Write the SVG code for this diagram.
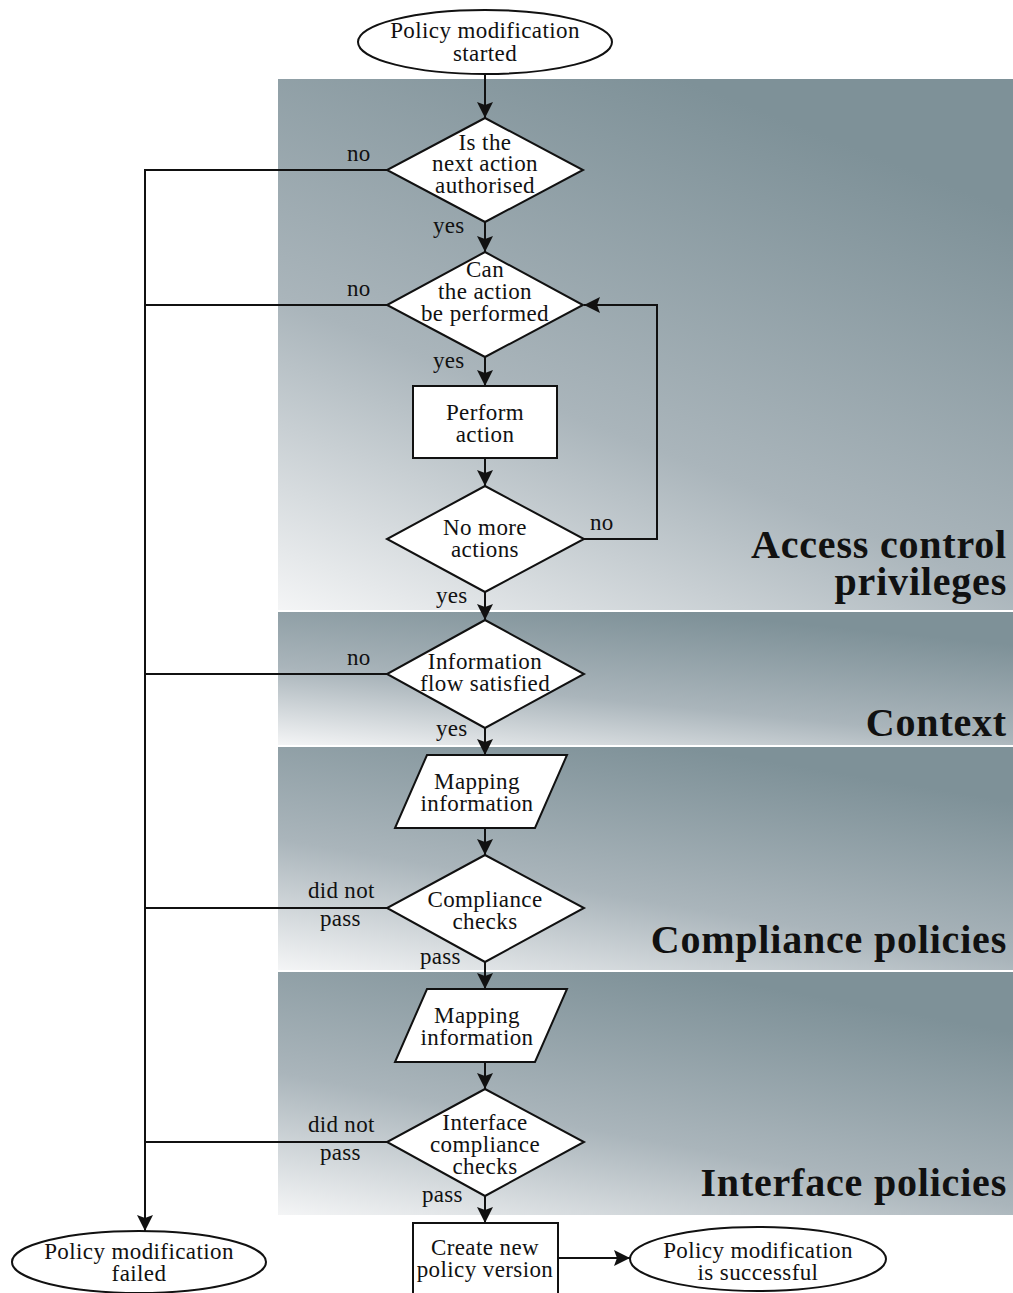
<svg xmlns="http://www.w3.org/2000/svg" width="1013" height="1293" viewBox="0 0 1013 1293">
  <defs>
    <linearGradient id="band" x1="0" y1="1" x2="0.55" y2="0">
      <stop offset="0" stop-color="#f4f5f6"/>
      <stop offset="0.45" stop-color="#aab5bb"/>
      <stop offset="1" stop-color="#7e9198"/>
    </linearGradient>
    <marker id="arrow" markerUnits="userSpaceOnUse" markerWidth="16" markerHeight="16" refX="16" refY="8" orient="auto">
      <path d="M0,0 L16,8 L0,16 L3,8 z" fill="#111"/>
    </marker>
    <style>
      .shape { fill: #fff; stroke: #111; stroke-width: 2; }
      .link { fill: none; stroke: #111; stroke-width: 2; }
      .txt { font-family: "Liberation Serif", "Times New Roman", serif; font-size: 23px; letter-spacing: 0.4px; fill: #111; text-anchor: middle; }
      .lbl { font-family: "Liberation Serif", "Times New Roman", serif; font-size: 23px; letter-spacing: 0.3px; fill: #111; }
      .title { font-family: "Liberation Serif", "Times New Roman", serif; font-size: 40px; letter-spacing: 0.8px; font-weight: bold; fill: #111; text-anchor: end; }
    </style>
  </defs>

  <rect width="1013" height="1293" fill="#fff"/>

  <!-- background bands -->
  <g id="bands">
    <rect x="278" y="79" width="735" height="531" fill="url(#band)"/>
    <rect x="278" y="612" width="735" height="133" fill="url(#band)"/>
    <rect x="278" y="747" width="735" height="223" fill="url(#band)"/>
    <rect x="278" y="972" width="735" height="243" fill="url(#band)"/>
    <text class="title" x="1007" y="558">Access control</text>
    <text class="title" x="1007" y="595">privileges</text>
    <text class="title" x="1007" y="736">Context</text>
    <text class="title" x="1007" y="953">Compliance policies</text>
    <text class="title" x="1007" y="1196">Interface policies</text>
  </g>

  <!-- connectors -->
  <g id="connectors">
    <line class="link" x1="485" y1="75" x2="485" y2="118" marker-end="url(#arrow)"/>
    <line class="link" x1="485" y1="222" x2="485" y2="252" marker-end="url(#arrow)"/>
    <line class="link" x1="485" y1="357" x2="485" y2="386" marker-end="url(#arrow)"/>
    <line class="link" x1="485" y1="458" x2="485" y2="486" marker-end="url(#arrow)"/>
    <line class="link" x1="485" y1="592" x2="485" y2="620" marker-end="url(#arrow)"/>
    <line class="link" x1="485" y1="728" x2="485" y2="755" marker-end="url(#arrow)"/>
    <line class="link" x1="485" y1="828" x2="485" y2="855" marker-end="url(#arrow)"/>
    <line class="link" x1="485" y1="962" x2="485" y2="989" marker-end="url(#arrow)"/>
    <line class="link" x1="485" y1="1062" x2="485" y2="1089" marker-end="url(#arrow)"/>
    <line class="link" x1="485" y1="1196" x2="485" y2="1223" marker-end="url(#arrow)"/>
    <line class="link" x1="558" y1="1258" x2="630" y2="1258" marker-end="url(#arrow)"/>
    <path class="link" d="M584,539 H657 V305 H584" marker-end="url(#arrow)"/>
    <line class="link" x1="387" y1="170" x2="145" y2="170"/>
    <line class="link" x1="387" y1="305" x2="145" y2="305"/>
    <line class="link" x1="387" y1="674" x2="145" y2="674"/>
    <line class="link" x1="387" y1="908" x2="145" y2="908"/>
    <line class="link" x1="387" y1="1142" x2="145" y2="1142"/>
    <line class="link" x1="145" y1="169" x2="145" y2="1231" marker-end="url(#arrow)"/>

    <text class="lbl" x="347" y="161">no</text>
    <text class="lbl" x="433" y="233">yes</text>
    <text class="lbl" x="347" y="296">no</text>
    <text class="lbl" x="433" y="368">yes</text>
    <text class="lbl" x="590" y="530">no</text>
    <text class="lbl" x="436" y="603">yes</text>
    <text class="lbl" x="347" y="665">no</text>
    <text class="lbl" x="436" y="736">yes</text>
    <text class="lbl" x="308" y="898">did not</text>
    <text class="lbl" x="320" y="926">pass</text>
    <text class="lbl" x="420" y="964">pass</text>
    <text class="lbl" x="308" y="1132">did not</text>
    <text class="lbl" x="320" y="1160">pass</text>
    <text class="lbl" x="422" y="1202">pass</text>
  </g>

  <g id="start">
    <ellipse class="shape" cx="485" cy="42" rx="127" ry="32"/>
    <text class="txt" x="485" y="38">Policy modification</text>
    <text class="txt" x="485" y="61">started</text>
  </g>

  <g id="authorised">
    <polygon class="shape" points="485,118 583,170 485,222 387,170"/>
    <text class="txt" x="485" y="150">Is the</text>
    <text class="txt" x="485" y="171">next action</text>
    <text class="txt" x="485" y="193">authorised</text>
  </g>

  <g id="can-perform">
    <polygon class="shape" points="485,252 583,305 485,357 387,305"/>
    <text class="txt" x="485" y="277">Can</text>
    <text class="txt" x="485" y="299">the action</text>
    <text class="txt" x="485" y="321">be performed</text>
  </g>

  <g id="perform-action">
    <rect class="shape" x="413" y="386" width="144" height="72"/>
    <text class="txt" x="485" y="420">Perform</text>
    <text class="txt" x="485" y="442">action</text>
  </g>

  <g id="no-more">
    <polygon class="shape" points="485,486 584,539 485,592 387,539"/>
    <text class="txt" x="485" y="535">No more</text>
    <text class="txt" x="485" y="557">actions</text>
  </g>

  <g id="info-flow">
    <polygon class="shape" points="485,620 584,674 485,728 387,674"/>
    <text class="txt" x="485" y="669">Information</text>
    <text class="txt" x="485" y="691">flow satisfied</text>
  </g>

  <g id="mapping-1">
    <polygon class="shape" points="427,755 567,755 535,828 395,828"/>
    <text class="txt" x="477" y="789">Mapping</text>
    <text class="txt" x="477" y="811">information</text>
  </g>

  <g id="compliance">
    <polygon class="shape" points="485,855 584,908 485,962 387,908"/>
    <text class="txt" x="485" y="907">Compliance</text>
    <text class="txt" x="485" y="929">checks</text>
  </g>

  <g id="mapping-2">
    <polygon class="shape" points="427,989 567,989 535,1062 395,1062"/>
    <text class="txt" x="477" y="1023">Mapping</text>
    <text class="txt" x="477" y="1045">information</text>
  </g>

  <g id="interface">
    <polygon class="shape" points="485,1089 584,1142 485,1196 387,1142"/>
    <text class="txt" x="485" y="1130">Interface</text>
    <text class="txt" x="485" y="1152">compliance</text>
    <text class="txt" x="485" y="1174">checks</text>
  </g>

  <g id="create-version">
    <rect class="shape" x="413" y="1223" width="145" height="80"/>
    <text class="txt" x="485" y="1255">Create new</text>
    <text class="txt" x="485" y="1277">policy version</text>
  </g>

  <g id="success">
    <ellipse class="shape" cx="758" cy="1259" rx="128" ry="32"/>
    <text class="txt" x="758" y="1258">Policy modification</text>
    <text class="txt" x="758" y="1280">is successful</text>
  </g>

  <g id="failed">
    <ellipse class="shape" cx="139" cy="1262" rx="127" ry="31"/>
    <text class="txt" x="139" y="1259">Policy modification</text>
    <text class="txt" x="139" y="1281">failed</text>
  </g>
</svg>
